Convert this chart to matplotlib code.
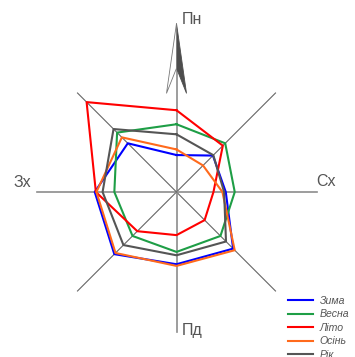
import numpy as np
import matplotlib
matplotlib.use('Agg')
import matplotlib.pyplot as plt

plt.rcParams['font.family'] = ['Liberation Sans', 'DejaVu Sans']

# wind directions clockwise from north
directions = ['Пн', 'ПнСх', 'Сх', 'ПдСх', 'Пд', 'ПдЗх', 'Зх', 'ПнЗх']
seasons = ['Зима', 'Весна', 'Літо', 'Осінь', 'Рік']

# repeatability, %
winter = [6.6, 9.2, 8.8, 14.3, 12.9, 15.7, 14.6, 12.3]
spring = [12.1, 12.3, 10.4, 11.1, 10.7, 11.1, 11.1, 15.0]
summer = [14.6, 11.7, 6.6, 7.1, 7.7, 9.9, 14.4, 22.7]
autumn = [7.6, 6.7, 8.2, 14.7, 13.2, 15.4, 14.3, 13.8]
year = [10.3, 9.3, 8.5, 12.5, 11.3, 13.4, 13.2, 15.9]

colors = ['#0000ff', '#1e9e46', '#ff0000', '#ff6a1c', '#555555']

W, H = 355, 357
cx, cy = 176.5, 192.0      # centre in pixels from top-left
px_per_unit = 5.6
r_axis = 25.0               # length of the spokes
r_view = 31.0

fig = plt.figure(figsize=(W / 100, H / 100), dpi=100)
rad_px = r_view * px_per_unit
ax = fig.add_axes([(cx - rad_px) / W, (H - cy - rad_px) / H,
                   2 * rad_px / W, 2 * rad_px / H], projection='polar')
ax.set_theta_zero_location('N')
ax.set_theta_direction(-1)
ax.set_ylim(0, r_view)
ax.axis('off')

theta = np.deg2rad(np.arange(8) * 45.0)

# spokes
for i, t in enumerate(theta):
    if i % 2 == 0:
        ax.plot([t, t], [0, r_axis], color='#8c8c8c', lw=1.2, zorder=1, clip_on=False)
    else:
        ax.plot([t, t], [0, r_axis], color='#666666', lw=0.8, zorder=1, clip_on=False)
ax.plot([0, 0], [r_axis, 22.1], color='#8c8c8c', lw=1.2, zorder=1, clip_on=False)

# north arrow
a = np.deg2rad(5.8)
ax.fill([0, a, 0], [30.1, 17.7, 22.1], color='#4d4d4d', lw=0.6, zorder=3, clip_on=False)
ax.fill([0, -a, 0], [30.1, 17.7, 22.1], facecolor='white', edgecolor='#777777',
        lw=0.6, zorder=3, clip_on=False)

series = [winter, spring, summer, autumn, year]
tt = np.append(theta, theta[0])
for name, vals, c in zip(seasons, series, colors):
    v = np.append(vals, vals[0])
    ax.plot(tt, v, color=c, lw=1.5, label=name, zorder=4, clip_on=False)

# direction labels
lab = dict(fontsize=11.5, color='#555555')
fig.text(182 / W, 1 - 20 / H, 'Пн', ha='left', va='center', **lab)
fig.text(316 / W, 1 - 182 / H, 'Сх', ha='left', va='center', **lab)
fig.text(31 / W, 1 - 183 / H, 'Зх', ha='right', va='center', **lab)
fig.text(182 / W, 1 - 330 / H, 'Пд', ha='left', va='center', **lab)

leg = fig.legend(loc='upper left', bbox_to_anchor=(288 / W, 1 - 296 / H),
                 frameon=False, fontsize=7.6, handlelength=2.4,
                 handletextpad=0.6, labelspacing=0.33, borderpad=0, borderaxespad=0)
for txt in leg.get_texts():
    txt.set_color('#555555')
    txt.set_style('italic')

fig.savefig('out.png', dpi=100)
